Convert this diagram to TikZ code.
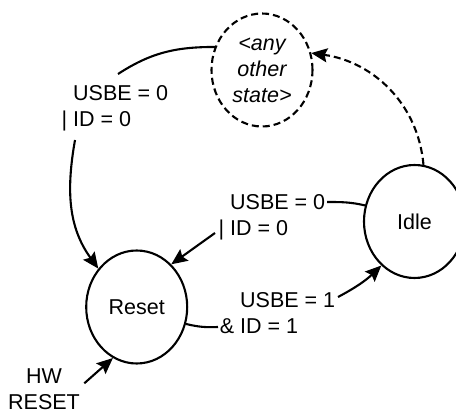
\documentclass[tikz,border=0pt]{standalone}
\usepackage{fontspec}
\setmainfont{Liberation Sans}
\usetikzlibrary{shapes.geometric, arrows.meta}

\begin{document}
\begin{tikzpicture}[
  x = 1pt, y = 1pt,
  font = \fontsize{21.5}{26}\selectfont,
  state/.style = {ellipse, draw, line width=2.1pt, minimum width=101pt,
                  minimum height=113pt, inner sep=0pt, align=center},
  arrow/.style = {-{Stealth[length=16pt, width=14pt, inset=2.5pt]}, line width=2.1pt},
  wire/.style  = {line width=2.1pt},
  cond/.style  = {anchor=west, inner sep=0pt, align=left}
]
\useasboundingbox (0,0) rectangle (456,413);
\clip (0,0) rectangle (456,413);

\node[state, dash pattern=on 7pt off 4pt] (other) at (262,343) {\itshape <any\\\itshape other\\\itshape state>};
\node[state] (reset) at (136.7,106) {Reset};
\node[state] (idle)  at (414.5,191.5) {Idle};

\node[cond] (condA) at (73,304.7)  {USBE = 0\\\llap{| }ID = 0};
\node[cond] (condB) at (230,195.7) {USBE = 0\\\llap{| }ID = 0};
\node[cond] (condC) at (240,99.8)  {USBE = 1\\\llap{\& }ID = 1};
\node[align=center, inner sep=0pt] (hw) at (44,24) {HW\\RESET};

% line ends next to the conditions
\coordinate (a1) at (118,339);
\coordinate (a2) at (75,273);
\coordinate (b1) at (327,211);
\coordinate (b2) at (215,180);
\coordinate (c1) at (218,86);
\coordinate (c2) at (338,116);
\coordinate (h1) at (84.3,29.7);

\draw[wire]  (other.154) to[out=180, in=33] (a1);
\draw[arrow] (a2) to[out=260, in=126] (reset.135);
\draw[wire]  (idle.162) to[out=167, in=0] (b1);
\draw[arrow] (b2) -- (reset.51);
\draw[wire]  (reset.341) to[bend right=8] (c1);
\draw[arrow] (c2) to[bend right=8] (idle.233);
\draw[arrow, dash pattern=on 7pt off 4pt] (idle.81) to[out=95, in=-8] (other.19);
\draw[arrow] (h1) -- (reset.245);

\end{tikzpicture}
\end{document}
